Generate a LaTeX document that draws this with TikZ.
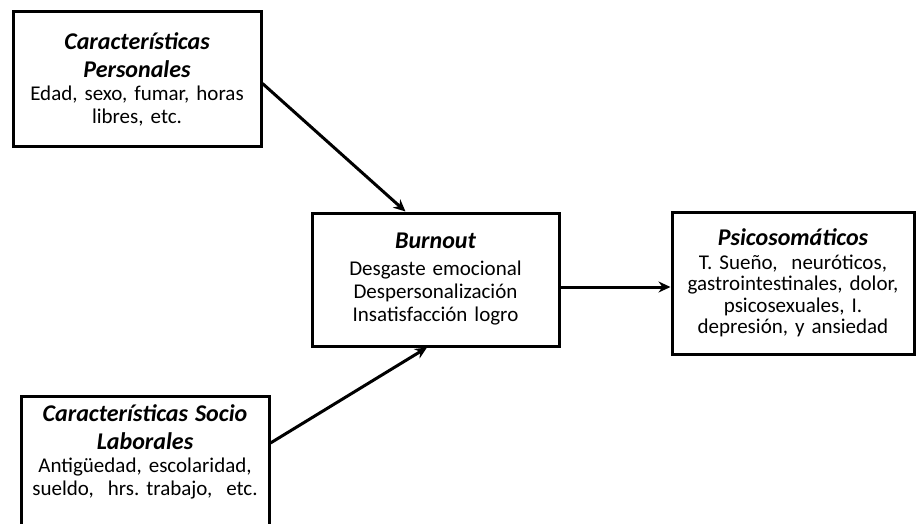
\documentclass[tikz,border=0pt]{standalone}
\usepackage{fontspec}
\setmainfont{Carlito}
\usetikzlibrary{arrows.meta,calc}
\newcommand\ttltext[1]{{\fontsize{24}{28}\selectfont\bfseries\itshape #1}}
\frenchspacing
\begin{document}
\begin{tikzpicture}[x=1pt,y=-1pt,
  box/.style={draw=black,line width=3pt,fill=white,align=center,inner xsep=2pt,inner ysep=0pt,
    font=\fontsize{21}{23}\selectfont\frenchspacing},
  arr/.style={line width=3pt,-{Stealth[length=12pt,width=11pt]}},
]
\useasboundingbox (0,0) rectangle (916,524);
\clip (0,0) rectangle (916,524);
\node[box,minimum width=248pt,minimum height=135pt,text width=240pt] (A) at (137,79.5)
  {\ttltext{Características\\[5pt]Personales}\\Edad, sexo, fumar, horas\\libres, etc.};
\node[box,minimum width=247pt,minimum height=133pt,text width=240pt] (M) at (435.5,279.5)
  {\ttltext{Burnout}\\[4pt]Desgaste emocional\\Despersonalización\\Insatisfacción logro};
\node[box,minimum width=242pt,minimum height=142pt,text width=236pt,font=\fontsize{21}{21.5}\selectfont\frenchspacing] (P) at (793,283)
  {\ttltext{Psicosomáticos}\\[2pt]T. Sueño,\ \ neuróticos,\\gastrointestinales, dolor,\\psicosexuales, I.\\depresión, y ansiedad};
\node[box,minimum width=248pt,text width=240pt,inner ysep=8pt,text depth=120pt,anchor=north] (S) at (145,395)
  {\ttltext{Características Socio\\[5pt]Laborales}\\Antigüedad, escolaridad,\\sueldo,\ \ hrs. trabajo,\ \ etc.};
\draw[arr] ($(A.east)+(0,4)$) -- ($(M.north west)!0.38!(M.north east)$);
\draw[arr] ($(S.north east)+(0,48)$) -- ($(M.south west)!0.466!(M.south east)$);
\coordinate (mr) at ($(M.east)+(0,7.5)$);
\draw[arr] (mr) -- (mr -| P.west);
\end{tikzpicture}
\end{document}
